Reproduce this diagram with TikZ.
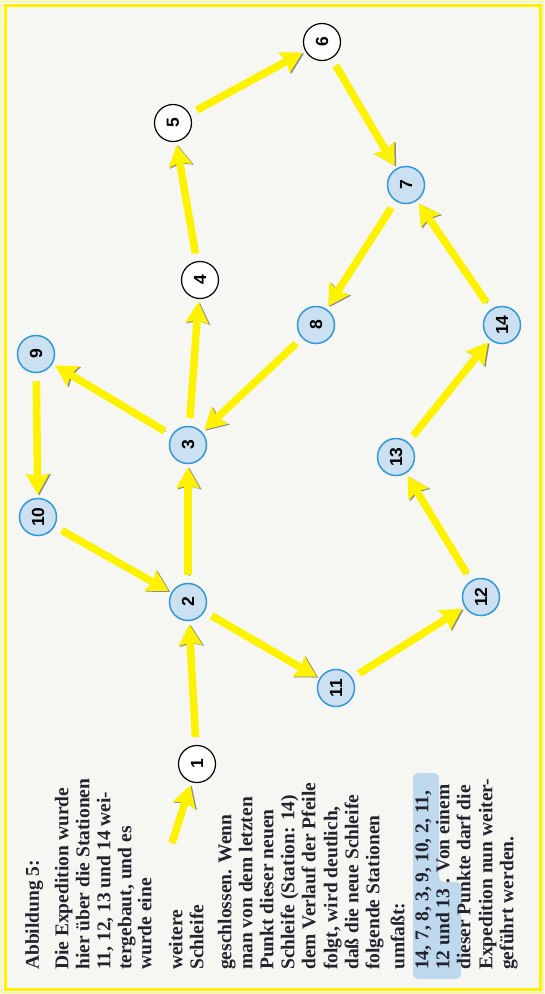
\documentclass[tikz,border=0pt]{standalone}
\usepackage{fontspec}
\setmainfont{Liberation Serif}
\setsansfont{Liberation Sans}
\usetikzlibrary{arrows.meta}

\definecolor{gelb}{RGB}{255,242,0}
\definecolor{hellblau}{RGB}{203,224,240}
\definecolor{randblau}{RGB}{52,152,220}
\definecolor{papier}{RGB}{246,247,243}
\definecolor{schrift}{RGB}{35,35,45}
\definecolor{markiert}{RGB}{190,217,237}

\tikzset{
  station/.style={circle,minimum size=37pt,inner sep=0pt,line width=1.5pt,draw=randblau,fill=hellblau,
    font=\sffamily\bfseries\fontsize{17.5}{17.5}\selectfont,rotate=90},
  altstation/.style={station,draw=black,fill=white,line width=1.2pt},
  pfeil/.style={draw=gelb,line width=7.5pt,-{Stealth[length=21pt,width=23pt,inset=3pt]},
    shorten <=8pt,shorten >=3pt,
    preaction={draw=black!45,transform canvas={shift={(1.5pt,-0.8pt)}}}},
  zeile/.style={anchor=mid west,rotate=90,inner sep=0pt,text=schrift,
    font=\bfseries\fontsize{19.5}{21}\selectfont}
}

\begin{document}
\begin{tikzpicture}[x=1pt,y=-1pt]
\useasboundingbox (0,0) rectangle (545,994);
\fill[papier] (0,0) rectangle (545,994);
% Rahmen
\draw[gelb!55,line width=1.5pt] (1.5,1.5) rectangle (543.5,992.5);
\draw[gelb,line width=3pt] (5,5) rectangle (540,989);

% Stationen
\node[altstation] (s1) at (197,764) {1};
\node[station] (s2) at (188,602) {2};
\node[station] (s3) at (188,445) {3};
\node[altstation] (s4) at (200,280) {4};
\node[altstation] (s5) at (173,123) {5};
\node[altstation] (s6) at (322,42) {6};
\node[station] (s7) at (406,185) {7};
\node[station] (s8) at (316,325) {8};
\node[station] (s9) at (36,354) {9};
\node[station] (s10) at (38,517) {10};
\node[station] (s11) at (336,688) {11};
\node[station] (s12) at (481,597) {12};
\node[station] (s13) at (396,457) {13};
\node[station] (s14) at (502,325) {14};
\coordinate (start) at (172,843);

% Expedition
\draw[pfeil,shorten <=0pt] (start) -- (s1);
\draw[pfeil] (s1) -- (s2);
\draw[pfeil] (s2) -- (s3);
\draw[pfeil] (s3) -- (s4);
\draw[pfeil] (s4) -- (s5);
\draw[pfeil] (s5) -- (s6);
\draw[pfeil] (s6) -- (s7);
\draw[pfeil] (s7) -- (s8);
\draw[pfeil] (s8) -- (s3);
\draw[pfeil] (s3) -- (s9);
\draw[pfeil] (s9) -- (s10);
\draw[pfeil] (s10) -- (s2);
\draw[pfeil] (s2) -- (s11);
\draw[pfeil] (s11) -- (s12);
\draw[pfeil] (s12) -- (s13);
\draw[pfeil] (s13) -- (s14);
\draw[pfeil] (s14) -- (s7);

% Text
\fill[markiert,rounded corners=5pt] (413,979) -- (413,773) -- (439,773) -- (439,882)
  -- (461,882) -- (461,979) -- cycle;
\node[zeile] (z1) at (36.5,970) {Abbildung 5:};
\node[zeile] (z2) at (66,970) {Die Expedition wurde};
\node[zeile] (z3) at (87,970) {hier über die Stationen};
\node[zeile] (z4) at (108,970) {11, 12, 13 und 14 wei-};
\node[zeile] (z5) at (129,970) {tergebaut, und es};
\node[zeile] (z6) at (149,970) {wurde eine};
\node[zeile] (z7) at (180,970) {weitere};
\node[zeile] (z8) at (201,970) {Schleife};
\node[zeile] (z9) at (229,970) {geschlossen. Wenn};
\node[zeile] (z10) at (250,970) {man von dem letzten};
\node[zeile] (z11) at (271,970) {Punkt dieser neuen};
\node[zeile] (z12) at (292,970) {Schleife (Station: 14)};
\node[zeile] (z13) at (313,970) {dem Verlauf der Pfeile};
\node[zeile] (z14) at (335,970) {folgt, wird deutlich,};
\node[zeile] (z15) at (356,970) {daß die neue Schleife};
\node[zeile] (z16) at (377,970) {folgende Stationen};
\node[zeile] (z17) at (402,970) {umfaßt:};
\node[zeile] (z18) at (426,970) {14, 7, 8, 3, 9, 10, 2, 11,};
\node[zeile] (z19) at (447,970) {12 und 13 . Von einem};
\node[zeile] (z20) at (468,970) {dieser Punkte darf die};
\node[zeile] (z21) at (490,970) {Expedition nun weiter-};
\node[zeile] (z22) at (511,970) {geführt werden.};
\end{tikzpicture}
\end{document}
